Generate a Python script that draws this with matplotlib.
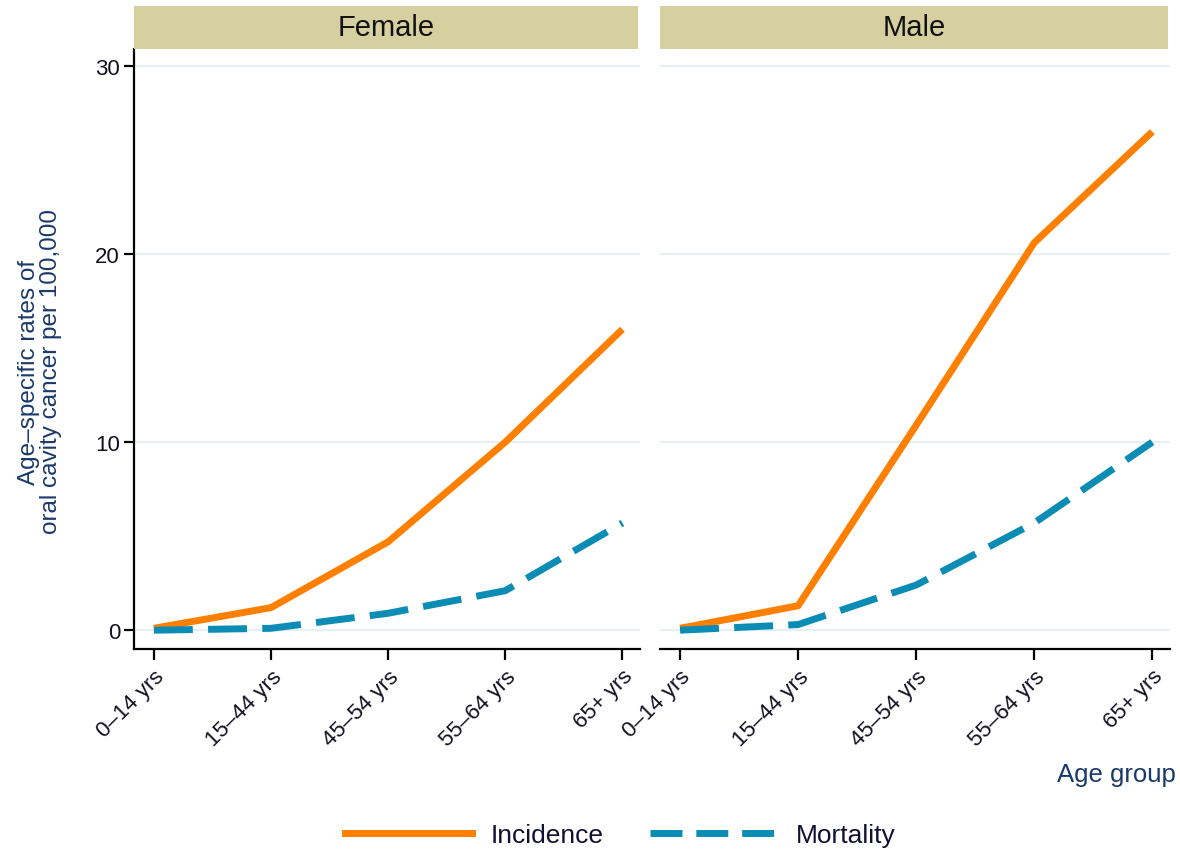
import matplotlib
matplotlib.use("Agg")
import matplotlib.pyplot as plt
from matplotlib.patches import Rectangle
from matplotlib.lines import Line2D

plt.rcParams['font.family'] = ['Liberation Sans', 'DejaVu Sans']

age_groups = ["0–14 yrs", "15–44 yrs", "45–54 yrs", "55–64 yrs", "65+ yrs"]
panels = ["Female", "Male"]
incidence = {"Female": [0.1, 1.2, 4.7, 10.0, 16.0],
             "Male":   [0.1, 1.3, 10.9, 20.6, 26.5]}
mortality = {"Female": [0.0, 0.1, 0.9, 2.1, 5.7],
             "Male":   [0.0, 0.3, 2.4, 5.7, 10.0]}
y_ticks = [0, 10, 20, 30]

ORANGE = "#ff7f00"
BLUE = "#0a8cb5"
STRIP = "#d6d0a0"
GRID = "#e6eff2"
NAVY = "#1a3a6b"
LW = 5.0

W, H = 1180, 853
fig = plt.figure(figsize=(W / 100, H / 100), dpi=100)

def fx(px):
    return px / W

def fy(py):
    return 1 - py / H

ax_top, ax_bot = 50, 650
strip_top = 7
lefts = [(134, 640), (660, 1170)]

x = list(range(len(age_groups)))
for i, (name, (l, r)) in enumerate(zip(panels, lefts)):
    ax = fig.add_axes([fx(l), fy(ax_bot), fx(r - l), fy(ax_top) - fy(ax_bot)])
    ax.set_ylim(-1.0, 30.9)
    ax.set_xlim(-0.17, 4.15)
    ax.set_yticks(y_ticks)
    ax.grid(axis='y', color=GRID, lw=1.5)
    ax.set_axisbelow(True)
    ax.plot(x, incidence[name], color=ORANGE, lw=LW, solid_capstyle='butt', zorder=3)
    ax.plot(x, mortality[name], color=BLUE, lw=LW, dashes=(5.6, 2.2), dash_capstyle='butt', zorder=3)
    ax.set_xticks(x)
    ax.set_xticklabels(age_groups, rotation=45, ha='right', va='top',
                       rotation_mode='anchor', fontsize=16, color='#111122')
    for s in ['top', 'right']:
        ax.spines[s].set_visible(False)
    ax.spines['bottom'].set_linewidth(1.6)
    ax.spines['left'].set_linewidth(1.6)
    ax.tick_params(axis='x', length=8, width=1.6, direction='out', pad=4)
    if i == 0:
        ax.tick_params(axis='y', length=7, width=1.6, labelsize=16, pad=3, labelcolor='#111122')
    else:
        ax.spines['left'].set_visible(False)
        ax.tick_params(axis='y', length=0, labelleft=False)
    # strip
    fig.patches.append(Rectangle((fx(l), fy(ax_top)), fx(r - l - 2), fy(strip_top) - fy(ax_top),
                                 transform=fig.transFigure, facecolor=STRIP, edgecolor='none'))
    fig.text(fx((l + r - 2) / 2), fy((strip_top + ax_top) / 2), name, ha='center', va='center',
             fontsize=21, color='#111111')

fig.text(fx(40), fy(372), "Age–specific rates of\noral cavity cancer per 100,000",
         rotation=90, ha='center', va='center', fontsize=17.5, color=NAVY, linespacing=1.0)
fig.text(fx(1176), fy(775), "Age group", ha='right', va='center', fontsize=18.5, color=NAVY)

handles = [Line2D([], [], color=ORANGE, lw=LW),
           Line2D([], [], color=BLUE, lw=LW, dashes=(4.6, 2.0))]
leg = fig.legend(handles, ["Incidence", "Mortality"], loc='center', ncol=2,
                 bbox_to_anchor=(fx(620), fy(836)), frameon=False, fontsize=19,
                 handlelength=4.8, columnspacing=1.75, handletextpad=0.72)
for t in leg.get_texts():
    t.set_color('#111133')

fig.savefig("out.png", dpi=100)
